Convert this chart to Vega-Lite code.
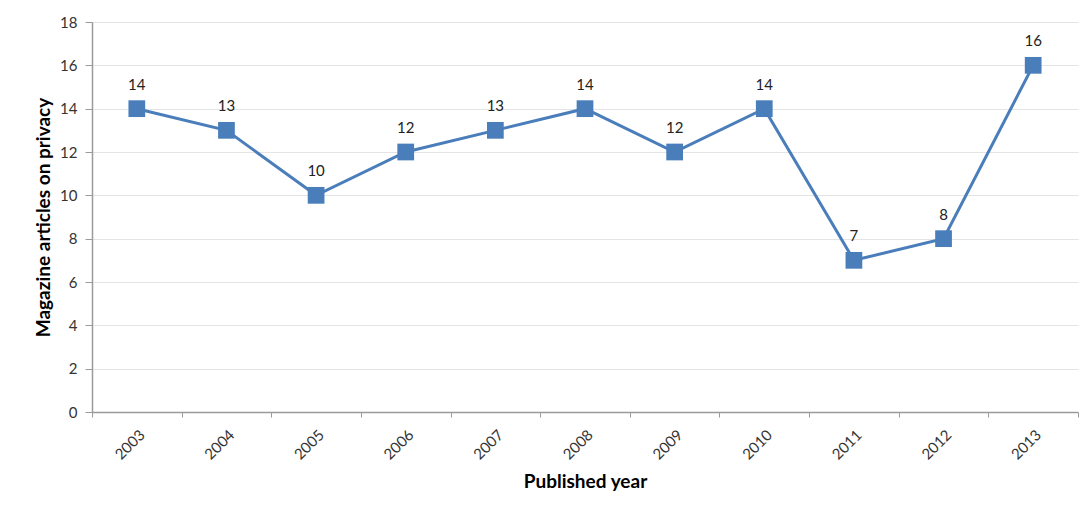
{
  "$schema": "https://vega.github.io/schema/vega-lite/v6.json",
  "width": 986,
  "height": 390,
  "autosize": "none",
  "padding": {"left": 92, "top": 22, "right": 9, "bottom": 98},
  "background": "white",
  "config": {
    "font": "Lato",
    "view": {"stroke": null}
  },
  "data": {
    "values": [
      {"year": "2003", "count": 14},
      {"year": "2004", "count": 13},
      {"year": "2005", "count": 10},
      {"year": "2006", "count": 12},
      {"year": "2007", "count": 13},
      {"year": "2008", "count": 14},
      {"year": "2009", "count": 12},
      {"year": "2010", "count": 14},
      {"year": "2011", "count": 7},
      {"year": "2012", "count": 8},
      {"year": "2013", "count": 16}
    ]
  },
  "encoding": {
    "x": {
      "field": "year",
      "type": "ordinal",
      "scale": {"type": "band", "paddingInner": 0, "paddingOuter": 0},
      "axis": {
        "title": "Published year",
        "titleFontSize": 19,
        "titleFontWeight": "bold",
        "titleColor": "#000000",
        "titlePadding": 10,
        "labelAngle": -45,
        "labelFontSize": 15,
        "labelColor": "#333333",
        "labelPadding": 10,
        "domainColor": "#9a9a9a",
        "domainWidth": 1.5,
        "tickColor": "#9a9a9a",
        "tickSize": 5,
        "tickBand": "extent",
        "grid": false
      }
    },
    "y": {
      "field": "count",
      "type": "quantitative",
      "scale": {"domain": [0, 18], "nice": false},
      "axis": {
        "title": "Magazine articles on privacy",
        "titleFontSize": 19,
        "titleFontWeight": "bold",
        "titleColor": "#000000",
        "titlePadding": 6,
        "values": [0, 2, 4, 6, 8, 10, 12, 14, 16, 18],
        "labelFontSize": 15,
        "labelColor": "#333333",
        "labelPadding": 8,
        "domainColor": "#9a9a9a",
        "domainWidth": 1.5,
        "tickColor": "#9a9a9a",
        "tickSize": 7,
        "gridColor": "#e4e4e4",
        "gridWidth": 1
      }
    }
  },
  "layer": [
    {
      "mark": {"type": "line", "color": "#4a7ebb", "strokeWidth": 3}
    },
    {
      "mark": {"type": "point", "shape": "square", "filled": true, "size": 280, "color": "#4a7ebb", "opacity": 1}
    },
    {
      "mark": {"type": "text", "dy": -24, "fontSize": 15, "color": "#222222"},
      "encoding": {"text": {"field": "count", "type": "quantitative"}}
    }
  ]
}
